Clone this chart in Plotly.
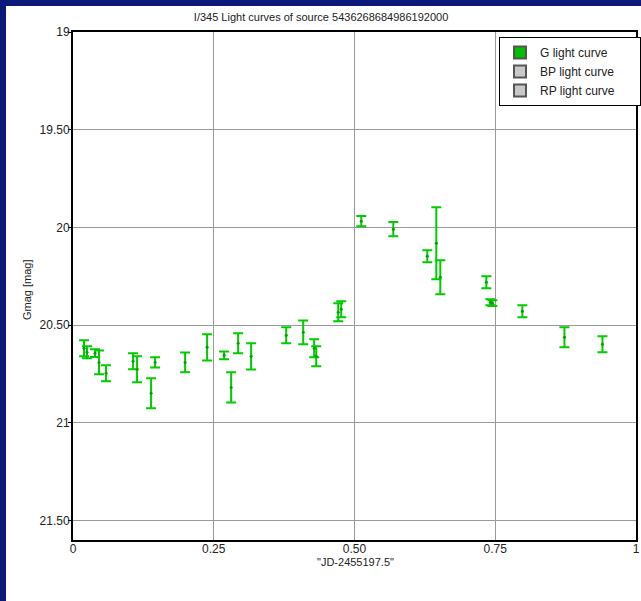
import plotly.graph_objects as go

# Data (G light curve)
jd = [0.0196, 0.0249, 0.0391, 0.0462, 0.0587, 0.1067, 0.1138, 0.1387, 0.1458,
      0.1991, 0.2382, 0.2684, 0.2809, 0.2933, 0.3164, 0.3787, 0.4089, 0.4284,
      0.4320, 0.4711, 0.4764, 0.5120, 0.5689, 0.6293, 0.6453, 0.6524, 0.7342,
      0.7413, 0.7449, 0.7982, 0.8729, 0.9404]
gmag = [20.619, 20.639, 20.644, 20.691, 20.747, 20.685, 20.726, 20.849, 20.691,
        20.691, 20.614, 20.655, 20.819, 20.593, 20.660, 20.552, 20.537, 20.619,
        20.660, 20.434, 20.419, 19.968, 20.009, 20.148, 20.081, 20.255, 20.281,
        20.383, 20.388, 20.429, 20.562, 20.598]
gerr = [0.041, 0.031, 0.020, 0.061, 0.041, 0.041, 0.067, 0.077, 0.026,
        0.051, 0.067, 0.020, 0.077, 0.051, 0.067, 0.041, 0.061, 0.046,
        0.051, 0.046, 0.041, 0.026, 0.036, 0.031, 0.184, 0.087, 0.031,
        0.015, 0.015, 0.031, 0.051, 0.041]

x_ticks = [0, 0.25, 0.5, 0.75, 1]
x_ticklabels = ["0", "0.25", "0.50", "0.75", "1"]
y_ticks = [19, 19.5, 20, 20.5, 21, 21.5]
y_ticklabels = ["19", "19.50", "20", "20.50", "21", "21.50"]
legend_names = ["G light curve", "BP light curve", "RP light curve"]
legend_colors = ["#00c000", "#c8c8c8", "#c8c8c8"]

W, H = 641, 601
FRAME = 6  # navy frame thickness on top and left
# desired plot-area edges in window pixels
PL, PR, PT, PB = 73, 636, 32, 540
L, R, T, B = PL, W - PR, PT, H - PB
pw, ph = PR - PL, PB - PT

GREEN = "#00cc00"
NAVY = "#0b1a7a"
FONT = "Liberation Sans"
TXT = "#222222"

fig = go.Figure()
fig.add_trace(go.Scatter(
    x=jd, y=gmag, mode="markers", name=legend_names[0],
    marker=dict(color="#00a000", size=3),
    error_y=dict(type="data", array=gerr, visible=True, color=GREEN,
                 thickness=2, width=5),
    showlegend=False,
))
# Legend entries
for nm, col in zip(legend_names, legend_colors):
    fig.add_trace(go.Scatter(
        x=[None], y=[None], mode="markers", name=nm + "\u00a0" * 6,
        marker=dict(symbol="square", size=13, color=col,
                    line=dict(color="#555555", width=1)),
    ))

def px(xp):  # window pixel -> paper x
    return (xp - PL) / pw

def py(yp):  # window pixel -> paper y
    return 1 - (yp - PT) / ph

# Navy frame: navy full background, white panel inset from top-left
fig.add_shape(type="rect", xref="paper", yref="paper",
              x0=px(-1), x1=px(W + 1), y0=py(H + 1), y1=py(-1),
              fillcolor=NAVY, line=dict(width=0), layer="below")
fig.add_shape(type="rect", xref="paper", yref="paper",
              x0=px(FRAME), x1=px(W + 1), y0=py(H + 1), y1=py(FRAME),
              fillcolor="white", line=dict(width=0), layer="below")

fig.add_annotation(text='"JD-2455197.5"', xref="paper", yref="paper",
                   x=px(355), y=py(562), xanchor="center", yanchor="middle",
                   showarrow=False, font=dict(family=FONT, size=11, color=TXT))
fig.add_annotation(text="Gmag [mag]", xref="paper", yref="paper",
                   x=px(27), y=py(290), xanchor="center", yanchor="middle",
                   textangle=-90, showarrow=False,
                   font=dict(family=FONT, size=11, color=TXT))

fig.update_layout(
    width=W, height=H,
    margin=dict(l=L, r=R, t=T, b=B, autoexpand=False),
    paper_bgcolor=NAVY, plot_bgcolor="white",
    font=dict(family=FONT, size=12, color=TXT),
    title=dict(text="I/345 Light curves of source 5436268684986192000",
               x=px(355), xanchor="center", y=1 - 17 / H,
               yanchor="middle",
               font=dict(family=FONT, size=11, color=TXT)),
    legend=dict(x=px(499), y=py(37), xanchor="left", yanchor="top",
                bgcolor="white", bordercolor="black", borderwidth=1,
                font=dict(family=FONT, size=12, color=TXT),
                itemsizing="constant", tracegroupgap=0),
    showlegend=True,
)
fig.update_xaxes(
    range=[0, 1], tickvals=x_ticks, ticktext=x_ticklabels,
    showgrid=True, gridcolor="#999999", gridwidth=1,
    showline=True, linecolor="black", linewidth=2, mirror=True,
    ticks="", zeroline=False, automargin=False,
    ticklabeloverflow="allow", ticklabelstandoff=-3,
    tickfont=dict(family=FONT, size=12, color=TXT),
)
fig.update_yaxes(
    range=[21.6, 19], tickvals=y_ticks, ticktext=y_ticklabels,
    showgrid=True, gridcolor="#999999", gridwidth=1,
    showline=True, linecolor="black", linewidth=2, mirror=True,
    ticks="outside", ticklen=3, tickcolor="black", zeroline=False,
    automargin=False, ticklabeloverflow="allow", ticklabelstandoff=-4,
    tickfont=dict(family=FONT, size=12, color=TXT),
)

post = ("document.body.style.margin='0px';"
        "document.body.style.overflow='hidden';")
fig.write_html("out.html", post_script=post,
               config={"displayModeBar": False})
